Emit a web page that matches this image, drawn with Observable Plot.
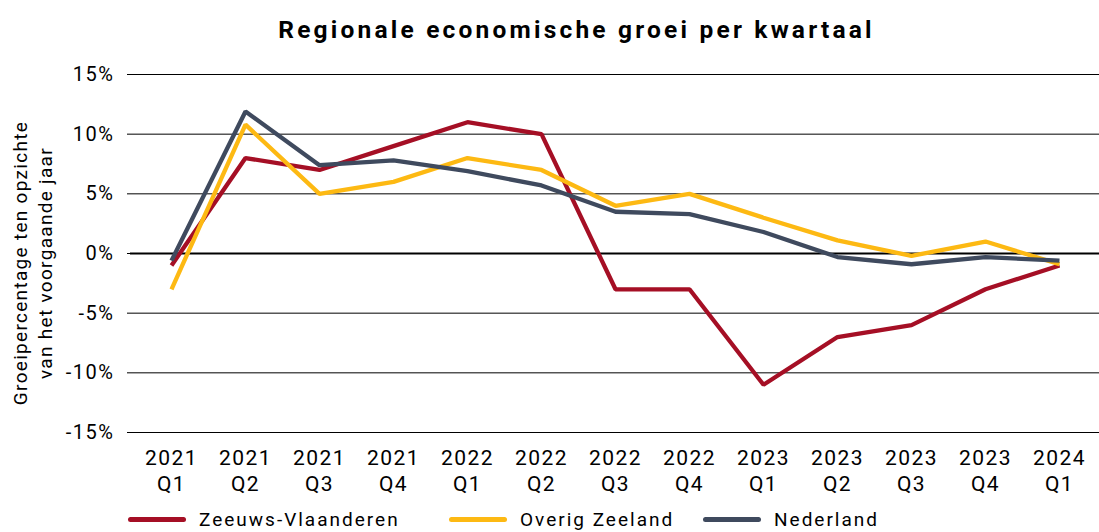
<!DOCTYPE html>
<html>
<head>
<meta charset="utf-8">
<script src="https://cdn.jsdelivr.net/npm/d3@7"></script>
<script src="https://cdn.jsdelivr.net/npm/@observablehq/plot@0.6"></script>
<style>
  body { margin: 0; background: #fff; font-family: Roboto, sans-serif; }
  #wrap { position: relative; width: 1099px; height: 532px; }
  #title { position: absolute; top: 15px; left: 0; width: 1153px; text-align: center; font-size: 24.5px; font-weight: bold; color: #000; letter-spacing: 3.2px; }
  #chart { position: absolute; top: 60px; left: 0; }
  #ylab { position: absolute; left: 33px; top: 263px; transform: translate(-50%, -50%) rotate(-90deg); font-size: 19px; text-align: center; line-height: 25px; white-space: nowrap; color: #000; letter-spacing: 1.3px; }
  .item { position: absolute; top: 508px; display: flex; align-items: center; font-size: 19px; letter-spacing: 2px; color: #000; }
  .sw { width: 58px; height: 5px; margin-right: 13px; border-radius: 2.5px; }
</style>
</head>
<body>
<div id="wrap">
  <div id="title">Regionale economische groei per kwartaal</div>
  <div id="chart"></div>
  <div id="ylab">Groeipercentage ten opzichte<br>van het voorgaande jaar</div>
</div>
<script>
const quarters = ["2021 Q1","2021 Q2","2021 Q3","2021 Q4","2022 Q1","2022 Q2","2022 Q3","2022 Q4","2023 Q1","2023 Q2","2023 Q3","2023 Q4","2024 Q1"];
const seriesNames = ["Zeeuws-Vlaanderen", "Overig Zeeland", "Nederland"];
const seriesColors = ["#A50F25", "#FDB913", "#3F4A5E"];
const zeeuwsVlaanderen = [-1.0, 8.0, 7.0, 9.0, 11.0, 10.0, -3.0, -3.0, -11.0, -7.0, -6.0, -3.0, -1.0];
const overigZeeland = [-3.0, 10.8, 5.0, 6.0, 8.0, 7.0, 4.0, 5.0, 3.0, 1.1, -0.2, 1.0, -0.9];
const nederland = [-0.6, 11.9, 7.4, 7.8, 6.9, 5.7, 3.5, 3.3, 1.8, -0.3, -0.9, -0.3, -0.6];
const yTicks = [-15, -10, -5, 0, 5, 10, 15];

const allSeries = [zeeuwsVlaanderen, overigZeeland, nederland];
const data = [];
allSeries.forEach((vals, si) => vals.forEach((v, i) => data.push({q: quarters[i], s: seriesNames[si], v: v / 100})));

const chart = Plot.plot({
  width: 1099,
  height: 445,
  marginTop: 14,
  marginBottom: 73,
  marginLeft: 130,
  marginRight: 0,
  style: {fontFamily: "Roboto, sans-serif", fontSize: "20px", color: "#000", background: "#fff", letterSpacing: "1.5px"},
  x: {type: "point", domain: quarters, padding: 0.5, label: null},
  y: {domain: [-0.15, 0.15], label: null},
  color: {domain: seriesNames, range: seriesColors},
  marks: [
    Plot.gridY(yTicks.map(t => t / 100), {stroke: "#000", strokeOpacity: 1, strokeWidth: 1}),
    Plot.axisY(yTicks.map(t => t / 100), {tickFormat: d => Math.round(d * 100) + "%", tickSize: 3, tickPadding: 13, fontSize: 20, stroke: "#000"}),
    Plot.axisX(quarters, {tickFormat: d => d.replace(" ", "\n"), tickSize: 0, tickPadding: 14, fontSize: 21, lineHeight: 1.24}),
    Plot.ruleY([0], {stroke: "#000", strokeWidth: 2}),
    Plot.line(data, {x: "q", y: "v", z: "s", stroke: "s", strokeWidth: 4.3, strokeLinejoin: "miter", strokeLinecap: "butt"})
  ]
});
document.getElementById("chart").appendChild(chart);

const legendLefts = [128, 449, 703];
const wrap = document.getElementById("wrap");
seriesNames.forEach((n, i) => {
  const it = document.createElement("div");
  it.className = "item";
  it.style.left = legendLefts[i] + "px";
  it.innerHTML = `<div class="sw" style="background:${seriesColors[i]}"></div><span>${n}</span>`;
  wrap.appendChild(it);
});
</script>
</body>
</html>
